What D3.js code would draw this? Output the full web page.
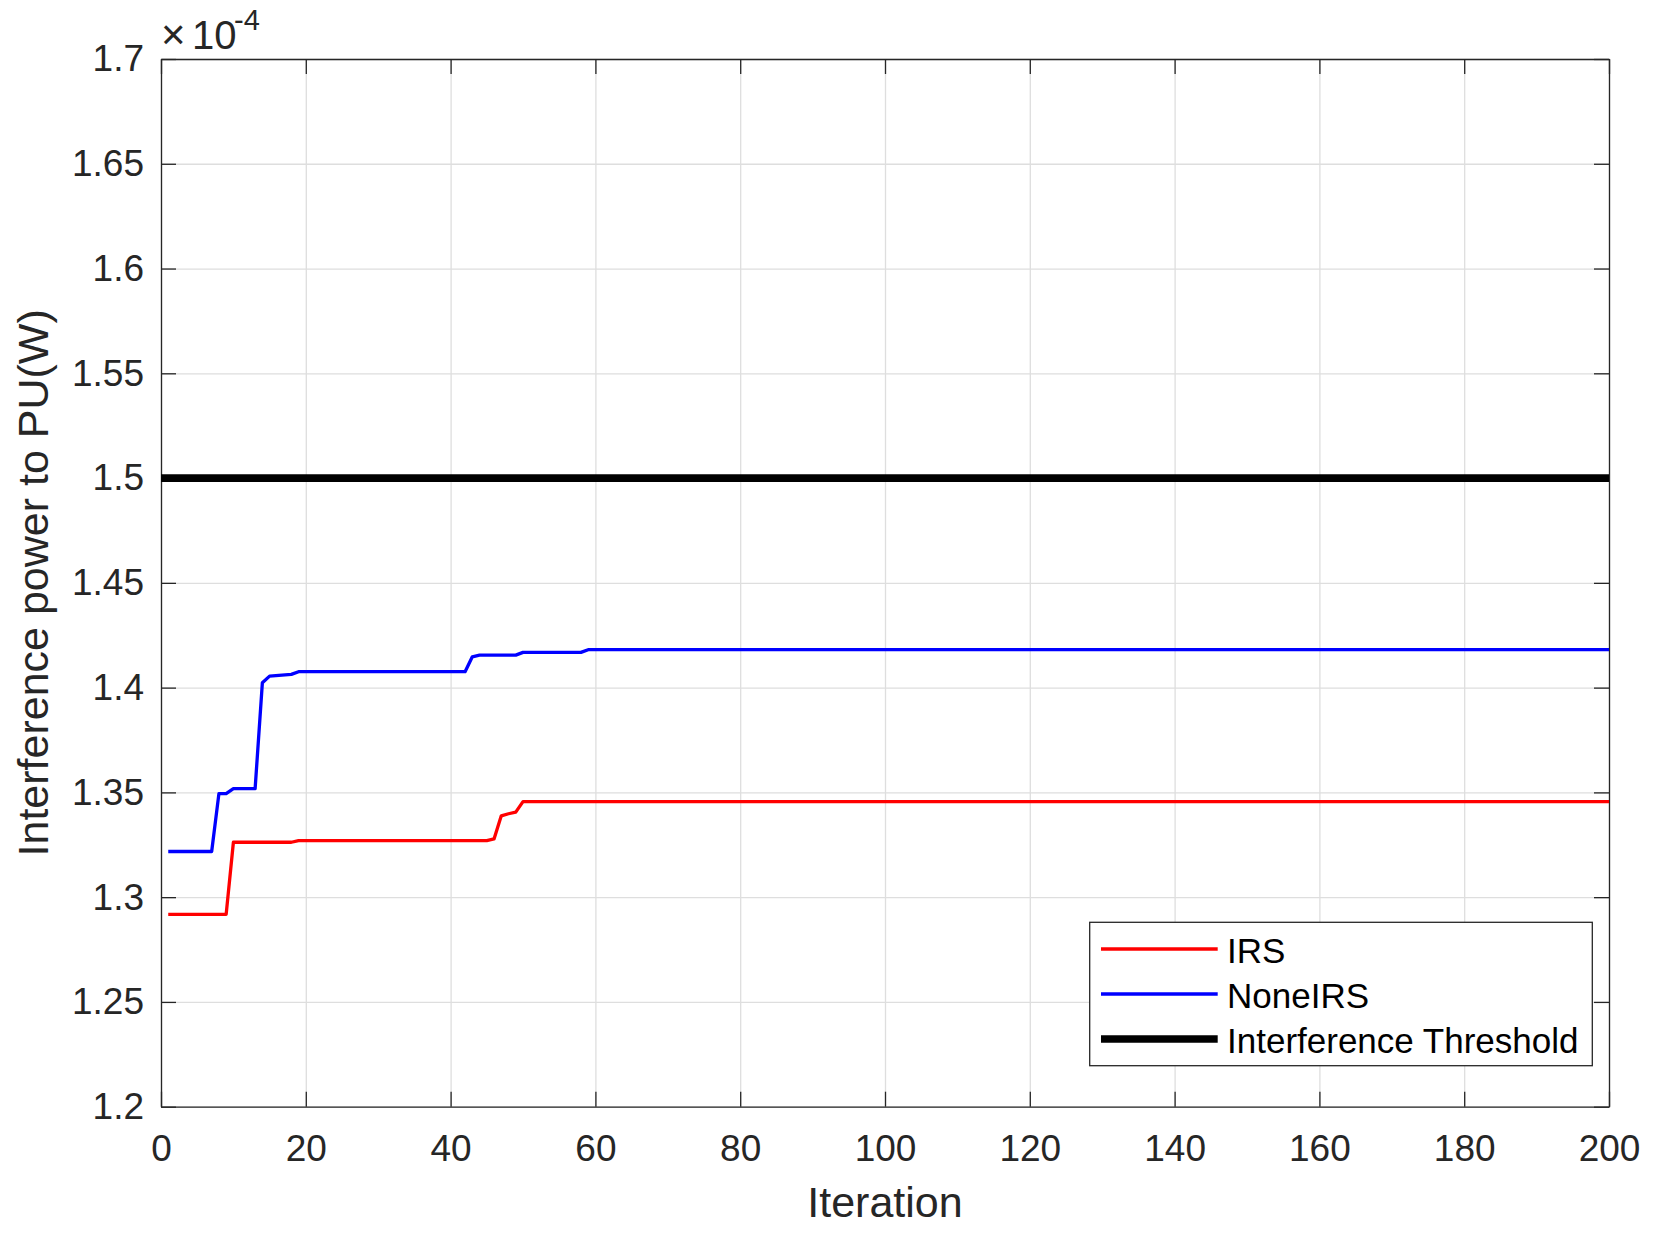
<!DOCTYPE html>
<html>
<head>
<meta charset="utf-8">
<script src="https://cdn.jsdelivr.net/npm/d3@7"></script>
<style>
  body { margin: 0; background: #fff; }
  text { font-family: "Liberation Sans", Arial, sans-serif; fill: #262626; }
</style>
</head>
<body>
<script>
// values are in units of 1e-4 W (axis shows x10^-4)
var irsIter  = [1, 9, 10, 18, 19, 45, 46, 47, 48, 49, 50, 200];
var irsValue = [1.2918, 1.2918, 1.3262, 1.3262, 1.3270, 1.3270, 1.3278, 1.3388, 1.3398, 1.3406, 1.3456, 1.3456];

var noneIter  = [1, 7, 8, 9, 10, 13, 14, 15, 18, 19, 42, 43, 44, 49, 50, 58, 59, 200];
var noneValue = [1.3218, 1.3218, 1.3494, 1.3494, 1.3518, 1.3518, 1.4023, 1.4055, 1.4063, 1.4076, 1.4076, 1.4147, 1.4155, 1.4155, 1.4168, 1.4168, 1.4181, 1.4181];

var threshIter  = [0, 200];
var threshValue = [1.5, 1.5];

var xTicks = [0, 20, 40, 60, 80, 100, 120, 140, 160, 180, 200];
var yTicks = [1.2, 1.25, 1.3, 1.35, 1.4, 1.45, 1.5, 1.55, 1.6, 1.65, 1.7];
var yTickLabels = ["1.2", "1.25", "1.3", "1.35", "1.4", "1.45", "1.5", "1.55", "1.6", "1.65", "1.7"];

var seriesNames = ["IRS", "NoneIRS", "Interference Threshold"];
var seriesColors = ["#ff0000", "#0000ff", "#000000"];
var seriesWidths = [3.3, 3.3, 7.6];

var W = 1655, H = 1233;
var mLeft = 161, mTop = 59, mRight = 1609, mBottom = 1106.7;

var svg = d3.select("body").append("svg")
    .attr("width", W)
    .attr("height", H);

var x = d3.scaleLinear().domain([0, 200]).range([mLeft, mRight]);
var y = d3.scaleLinear().domain([1.2, 1.7]).range([mBottom, mTop]);

// grid
svg.append("g")
    .attr("transform", "translate(0," + mBottom + ")")
    .call(d3.axisBottom(x).tickValues(xTicks).tickSize(-(mBottom - mTop)).tickFormat(""))
    .call(function (g) { g.select(".domain").remove(); })
    .selectAll("line").attr("stroke", "#dedede").attr("stroke-width", 1.3);

svg.append("g")
    .attr("transform", "translate(" + mLeft + ",0)")
    .call(d3.axisLeft(y).tickValues(yTicks).tickSize(-(mRight - mLeft)).tickFormat(""))
    .call(function (g) { g.select(".domain").remove(); })
    .selectAll("line").attr("stroke", "#dedede").attr("stroke-width", 1.3);

// axes (ticks inside, box)
function styleAxis(g) {
  g.select(".domain").attr("stroke", "#262626").attr("stroke-width", 1.3);
  g.selectAll(".tick line").attr("stroke", "#262626").attr("stroke-width", 1.3);
  g.selectAll("text").attr("fill", "#262626").style("font-size", "37px")
    .style("font-family", "'Liberation Sans', Arial, sans-serif");
}

svg.append("g")
    .attr("transform", "translate(0," + mBottom + ")")
    .call(d3.axisBottom(x).tickValues(xTicks).tickSize(-15).tickSizeOuter(0).tickPadding(28).tickFormat(d3.format("d")))
    .call(styleAxis);

svg.append("g")
    .attr("transform", "translate(0," + mTop + ")")
    .call(d3.axisTop(x).tickValues(xTicks).tickSize(-15).tickSizeOuter(0).tickFormat(""))
    .call(styleAxis);

svg.append("g")
    .attr("transform", "translate(" + mLeft + ",0)")
    .call(d3.axisLeft(y).tickValues(yTicks).tickSize(-15).tickSizeOuter(0).tickPadding(17)
      .tickFormat(function (d, i) { return yTickLabels[i]; }))
    .call(styleAxis);

svg.append("g")
    .attr("transform", "translate(" + mRight + ",0)")
    .call(d3.axisRight(y).tickValues(yTicks).tickSize(-15).tickSizeOuter(0).tickFormat(""))
    .call(styleAxis);

// data lines
var line = d3.line()
    .x(function (d) { return x(d[0]); })
    .y(function (d) { return y(d[1]); });

var series = [
  d3.zip(irsIter, irsValue),
  d3.zip(noneIter, noneValue),
  d3.zip(threshIter, threshValue)
];

svg.selectAll("path.series")
    .data(series)
    .enter()
  .append("path")
    .attr("class", "series")
    .attr("d", line)
    .attr("fill", "none")
    .attr("stroke", function (d, i) { return seriesColors[i]; })
    .attr("stroke-width", function (d, i) { return seriesWidths[i]; })
    .attr("stroke-linejoin", "round");

// exponent label  (x10^-4)
var expo = svg.append("text").attr("y", 49);
expo.append("tspan").attr("x", 161).style("font-size", "42px").style("font-weight", "300").text("\u00d7");
expo.append("tspan").attr("x", 192).style("font-size", "40px").text("10");
expo.append("tspan").attr("x", 234).attr("y", 30).style("font-size", "29px").text("-4");

// axis labels
svg.append("text")
    .attr("x", (mLeft + mRight) / 2)
    .attr("y", 1217)
    .attr("text-anchor", "middle")
    .style("font-size", "43px")
    .text("Iteration");

svg.append("text")
    .attr("transform", "translate(48," + (mTop + mBottom) / 2 + ") rotate(-90)")
    .attr("text-anchor", "middle")
    .style("font-size", "43px")
    .text("Interference power to PU(W)");

// legend
var legend = svg.append("g");
legend.append("rect")
    .attr("x", 1089.7)
    .attr("y", 922.3)
    .attr("width", 1592.3 - 1089.7)
    .attr("height", 1065.7 - 922.3)
    .attr("fill", "#fff")
    .attr("stroke", "#262626")
    .attr("stroke-width", 1.3);

var rows = legend.selectAll("g.row")
    .data(seriesNames)
    .enter()
  .append("g")
    .attr("class", "row")
    .attr("transform", function (d, i) { return "translate(0," + (949 + i * 45) + ")"; });

rows.append("line")
    .attr("x1", 1101).attr("x2", 1217.7)
    .attr("y1", 0).attr("y2", 0)
    .attr("stroke", function (d, i) { return seriesColors[i]; })
    .attr("stroke-width", function (d, i) { return seriesWidths[i]; });

rows.append("text")
    .attr("x", 1227)
    .attr("y", 14)
    .style("font-size", "35px")
    .style("fill", "#000")
    .text(function (d) { return d; });
</script>
</body>
</html>
